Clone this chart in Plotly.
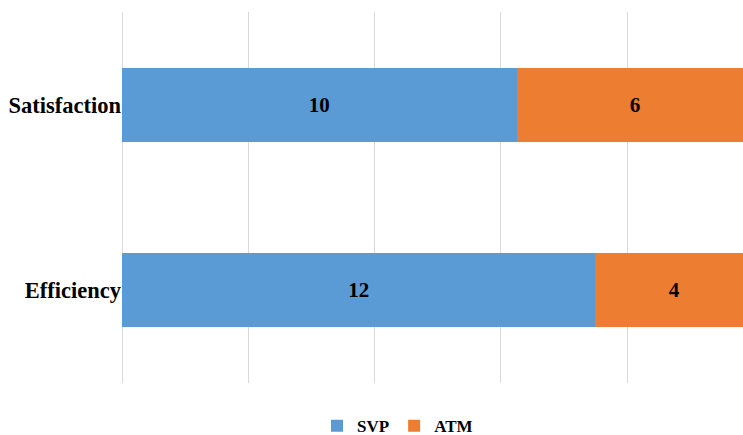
import plotly.graph_objects as go

categories = ["Efficiency", "Satisfaction"]
svp_values = [12, 10]
atm_values = [4, 6]
series_names = ["SVP", "ATM"]

BLUE = "#5B9BD5"
ORANGE = "#ED7D31"
SERIF = "Liberation Serif"

fig = go.Figure()
for name, vals, color in [(series_names[0], svp_values, BLUE),
                          (series_names[1], atm_values, ORANGE)]:
    fig.add_trace(go.Bar(
        y=categories, x=vals, orientation="h", name=name,
        marker=dict(color=color, line=dict(width=0)),
        text=[str(v) for v in vals], textposition="inside",
        insidetextanchor="middle",
        textfont=dict(family=SERIF, size=21, color="black", weight="bold"),
        constraintext="none",
    ))

fig.update_layout(
    barmode="stack",
    bargap=0.6,
    width=743, height=435,
    margin=dict(l=122, r=0, t=12, b=52, autoexpand=False),
    paper_bgcolor="white", plot_bgcolor="white",
    showlegend=True,
    legend=dict(orientation="h", xref="container", yref="container",
                x=0.535, xanchor="center", y=0.02, yanchor="middle",
                font=dict(family=SERIF, size=17, color="black", weight="bold"),
                itemwidth=30, traceorder="normal"),
)
fig.update_xaxes(range=[0, 15.74], tick0=0, dtick=3.2, showticklabels=False,
                 showgrid=True, gridcolor="#D9D9D9", gridwidth=1,
                 zeroline=True, zerolinecolor="#D9D9D9", zerolinewidth=1,
                 showline=False, fixedrange=True)
fig.update_yaxes(categoryorder="array", categoryarray=categories,
                 tickfont=dict(family=SERIF, size=22.5, color="black", weight="bold"),
                 ticks="", ticklabelstandoff=0, showline=False, showgrid=False)

fig.write_html("out.html")
